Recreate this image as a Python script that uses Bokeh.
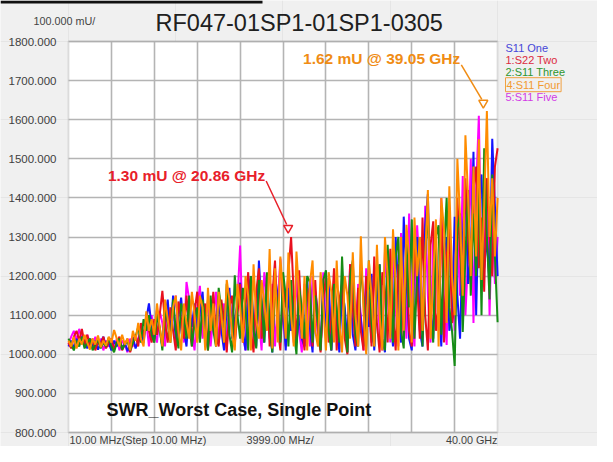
from bokeh.plotting import figure
from bokeh.models import (Range1d, FixedTicker, Grid, Label, PrintfTickFormatter,
                          LinearAxis, BoxAnnotation)
from bokeh.embed import file_html
from bokeh.resources import INLINE

# ---------------- data ----------------
START_GHZ = 0.01          # 10.00 MHz
STEP_GHZ = 0.25           # plotted sweep step
DIV_GHZ = 3.999           # 3999.00 MHz / division
N_POINTS = 161
freq = [START_GHZ + STEP_GHZ * i for i in range(N_POINTS)]

Y_TICKS = [800, 900, 1000, 1100, 1200, 1300, 1400, 1500, 1600, 1700, 1800]
X_DIVS = [START_GHZ + DIV_GHZ * i for i in range(1, 10)]

s11_one = [1020, 1035, 1015, 1040, 1025, 1045, 1030, 1015, 1040, 1020, 1035, 1012, 1030, 1045, 1020, 1030,
           1010, 1035, 1020, 1040, 1015, 1030, 1008, 1025, 1045, 1015, 1035, 1060, 1030, 1090, 1130, 1070,
           1040, 1115, 1060, 1020, 1090, 1140, 1050, 1150, 1030, 1100, 1145, 1060, 1020, 1120, 1070, 1130,
           1040, 1110, 1160, 1050, 1015, 1130, 1080, 1030, 1150, 1060, 1010, 1120, 1170, 1040, 1090, 1130,
           1183, 1060, 1010, 1150, 1200, 1070, 1020, 1240, 1110, 1030, 1180, 1060, 1005, 1200, 1150, 1040,
           1120, 1010, 1170, 1060, 1150, 1030, 1100, 1040, 1020, 1195, 1070, 1005, 1160, 1110, 1020, 1150,
           1060, 1195, 1010, 1140, 1080, 1005, 1170, 1120, 1030, 1190, 1050, 1010, 1150, 1090, 1020, 1180,
           1070, 1206, 1010, 1150, 1230, 1040, 1005, 1260, 1100, 1020, 1300, 1150, 1030, 1352, 1200, 1040,
           1010, 1250, 1300, 1060, 1020, 1330, 1410, 1120, 1040, 1280, 1150, 1020, 1230, 1300, 1060, 1100,
           1352, 1150, 1040, 1300, 1420, 1180, 1250, 1518, 1100, 1400, 1460, 1220, 1300, 1180, 1551, 1380,
           1200]

s22_two = [1030, 1015, 1045, 1060, 1035, 1065, 1025, 1050, 1020, 1040, 1010, 1035, 1025, 1045, 1015, 1030,
           1040, 1012, 1030, 1045, 1010, 1025, 1040, 1005, 1030, 1050, 1020, 1080, 1045, 1100, 1060, 1030,
           1090, 1050, 1100, 1162, 1080, 1030, 1120, 1060, 1010, 1135, 1090, 1040, 1150, 1070, 1020, 1110,
           1160, 1040, 1100, 1130, 1010, 1080, 1160, 1050, 1020, 1140, 1090, 1005, 1120, 1150, 1030, 1100,
           1180, 1030, 1120, 1210, 1060, 1005, 1160, 1220, 1040, 1100, 1190, 1020, 1150, 1240, 1070, 1010,
           1180, 1120, 1210, 1300, 1150, 1030, 1215, 1080, 1010, 1170, 1120, 1020, 1190, 1060, 1005, 1140,
           1200, 1030, 1090, 1220, 1010, 1140, 1180, 1040, 1000, 1230, 1120, 1020, 1170, 1060, 1010, 1200,
           1140, 1020, 1250, 1080, 1005, 1210, 1160, 1030, 1270, 1100, 1010, 1230, 1190, 1040, 1280, 1060,
           1020, 1300, 1180, 1040, 1350, 1100, 1010, 1280, 1340, 1060, 1120, 1380, 1030, 1250, 1320, 1080,
           1120, 1400, 1250, 1150, 1450, 1300, 1180, 1420, 1480, 1220, 1350, 1160, 1450, 1300, 1200, 1480,
           1527]

s11_three = [1040, 1025, 1010, 1035, 1020, 1045, 1015, 1030, 1040, 1010, 1025, 1038, 1015, 1030, 1020, 1042,
             1020, 1005, 1030, 1040, 1012, 1025, 1035, 1010, 1030, 1045, 1070, 1030, 1090, 1060, 1100, 1050,
             1030, 1100, 1070, 1010, 1120, 1080, 1030, 1140, 1060, 1015, 1130, 1100, 1040, 1150, 1020, 1080,
             1120, 1030, 1140, 1090, 1010, 1150, 1060, 1020, 1170, 1110, 1030, 1180, 1050, 1005, 1202, 1100,
             1040, 1170, 1120, 1010, 1200, 1060, 1015, 1190, 1140, 1030, 1210, 1080, 1005, 1180, 1120, 1030,
             1210, 1150, 1020, 1190, 1060, 1000, 1170, 1120, 1040, 1200, 1185, 1030, 1150, 1080, 1010, 1190,
             1215, 1060, 1010, 1180, 1120, 1030, 1250, 1090, 1005, 1200, 1240, 1050, 1020, 1230, 1140, 1010,
             1240, 1080, 1020, 1190, 1230, 1040, 1010, 1280, 1150, 1030, 1250, 1300, 1060, 1015, 1290, 1120,
             1345, 1040, 1200, 1300, 1020, 1250, 1380, 1090, 1030, 1300, 1330, 1050, 1260, 1400, 1120, 1060,
             970, 1320, 1360, 1057, 1250, 1420, 1150, 1360, 1200, 1480, 1100, 1527, 1300, 1140, 1460, 1250,
             1082]

s11_four = [1035, 1020, 1045, 1015, 1040, 1025, 1050, 1030, 1012, 1040, 1025, 1048, 1018, 1035, 1022, 1045,
            1030, 1062, 1040, 1020, 1050, 1025, 1040, 1010, 1060, 1035, 1080, 1040, 1020, 1110, 1060, 1090,
            1050, 1130, 1070, 1020, 1140, 1090, 1030, 1120, 1150, 1060, 1010, 1130, 1080, 1040, 1160, 1100,
            1030, 1150, 1120, 1010, 1170, 1060, 1130, 1020, 1160, 1100, 1030, 1190, 1140, 1050, 1010, 1180,
            1120, 1030, 1200, 1150, 1010, 1230, 1090, 1040, 1190, 1130, 1060, 1269, 1015, 1220, 1030, 1250,
            1150, 1040, 1260, 1100, 1020, 1263, 1150, 1040, 1200, 1010, 1180, 1240, 1060, 1020, 1210, 1130,
            1010, 1210, 1160, 1030, 1240, 1080, 1005, 1200, 1150, 1040, 1261, 1100, 1020, 1302, 1110, 1000,
            1240, 1150, 1020, 1280, 1100, 1010, 1300, 1200, 1040, 1320, 1180, 1010, 1300, 1060, 1331, 1250,
            1030, 1350, 1200, 1300, 1060, 1250, 1420, 1040, 1200, 1345, 1020, 1400, 1320, 1080, 1430, 1200,
            1100, 1500, 1350, 1150, 1560, 1400, 1200, 1480, 1250, 1550, 1190, 1380, 1622, 1300, 1450, 1250,
            1400]

s11_five = [1025, 1045, 1060, 1035, 1065, 1040, 1020, 1050, 1030, 1015, 1045, 1025, 1040, 1010, 1035, 1020,
            1030, 1015, 1040, 1010, 1035, 1025, 1005, 1040, 1020, 1050, 1030, 1070, 1040, 1085, 1020, 1100,
            1060, 1030, 1110, 1080, 1020, 1130, 1050, 1100, 1150, 1040, 1090, 1030, 1185, 1140, 1060, 1010,
            1120, 1175, 1040, 1090, 1140, 1020, 1100, 1160, 1030, 1080, 1130, 1010, 1150, 1060, 1020, 1140,
            1278, 1050, 1010, 1160, 1200, 1030, 1140, 1090, 1010, 1210, 1150, 1040, 1180, 1020, 1130, 1245,
            1100, 1020, 1190, 1140, 1030, 1210, 1060, 1005, 1180, 1120, 1020, 1200, 1150, 1040, 1010, 1210,
            1060, 1160, 1010, 1190, 1120, 1030, 1200, 1080, 1005, 1231, 1150, 1020, 1180, 1100, 1010, 1220,
            1140, 1030, 1200, 1230, 1050, 1010, 1263, 1160, 1030, 1280, 1120, 1020, 1310, 1200, 1040, 1360,
            1100, 1020, 1330, 1200, 1050, 1380, 1150, 1030, 1300, 1245, 1060, 1400, 1120, 1024, 1350, 1200,
            1060, 1300, 1150, 1456, 1100, 1250, 1500, 1080, 1420, 1610, 1200, 1300, 1450, 1099, 1380, 1180,
            1300]

trace_names = ["S11 One", "1:S22 Two", "2:S11 Three", "4:S11 Four", "5:S11 Five"]
trace_values = [s11_one, s22_two, s11_three, s11_four, s11_five]
trace_colors = ["#1414ff", "#e8101e", "#168c16", "#ff8c00", "#ff00ff"]
legend_colors = ["#4646d8", "#dc2a40", "#2e962e", "#f29a30", "#d23ae6"]
draw_order = [4, 0, 1, 2, 3]

marker_freqs = [20.86, 39.05]
marker_vals = [1300, 1620]
marker_texts = ["1.30 mU @ 20.86 GHz", "1.62 mU @ 39.05 GHz"]
marker_colors = ["#e8202a", "#f08c14"]

X_MIN, X_MAX = 0.01, 40.0
Y_MIN, Y_MAX = 800, 1800

# ---------------- layout (canvas pixels) ----------------
W, H = 597, 446
FR_L, FR_R, FR_T, FR_B = 68, 497, 41, 432
GPP = (X_MAX - X_MIN) / (FR_R - FR_L)
UPP = (Y_MAX - Y_MIN) / (FR_B - FR_T)


def dx(px):
    return X_MIN + (px - FR_L) * GPP


def dy(py):
    return Y_MIN + (FR_B - py) * UPP


p = figure(width=W, height=H,
           x_range=Range1d(dx(0), dx(W)), y_range=Range1d(dy(H), dy(0)),
           output_backend="svg", toolbar_location=None,
           x_axis_location=None, y_axis_location=None,
           min_border_left=0, min_border_right=0, min_border_top=0, min_border_bottom=0)
p.border_fill_color = "#f0f0f0"
p.background_fill_color = "#f0f0f0"
p.outline_line_color = None

# plot area
p.add_layout(BoxAnnotation(left=X_MIN, right=X_MAX, bottom=Y_MIN, top=Y_MAX,
                           fill_color="white", fill_alpha=1, line_color=None, level="underlay"))
yg = Grid(dimension=1, ticker=FixedTicker(ticks=Y_TICKS), cross_bounds=(X_MIN, X_MAX),
          grid_line_color="#b4b4b4", grid_line_width=1.6)
xg = Grid(dimension=0, ticker=FixedTicker(ticks=X_DIVS), cross_bounds=(Y_MIN, Y_MAX),
          grid_line_color="#b4b4b4", grid_line_width=1.6)
p.add_layout(yg)
p.add_layout(xg)
p.add_layout(BoxAnnotation(left=X_MIN, right=X_MAX, bottom=Y_MIN, top=Y_MAX,
                           fill_color=None, fill_alpha=0, line_color="#a4a4a4", line_width=2,
                           level="underlay"))

yax = LinearAxis(fixed_location=X_MIN, ticker=FixedTicker(ticks=Y_TICKS),
                 formatter=PrintfTickFormatter(format="%.3f"))
yax.axis_line_color = None
yax.major_tick_line_color = None
yax.minor_tick_line_color = None
yax.major_label_standoff = 6
yax.major_label_text_font = "Liberation Sans"
yax.major_label_text_font_size = "11.5px"
yax.major_label_text_color = "#404040"
p.add_layout(yax, "left")

for i in draw_order:
    p.line(freq, trace_values[i], line_color=trace_colors[i], line_width=2)

# markers with leader lines
LEAD_DX = [-22, -22]
LEAD_DY = [47, 38]
for k in range(2):
    mx = marker_freqs[k] - 4 * GPP
    my = marker_vals[k] + 9 * UPP
    sx = mx + LEAD_DX[k] * GPP
    sy = my + LEAD_DY[k] * UPP
    p.line([sx, mx - 1.5 * GPP], [sy, my + 3.5 * UPP], line_color=marker_colors[k], line_width=1.5)
    p.scatter([mx], [my], marker="inverted_triangle", size=9, fill_color="white",
              line_color=marker_colors[k], line_width=1.5)
    p.add_layout(Label(x=sx - 1 * GPP, y=sy + 6 * UPP, text=marker_texts[k], text_align="right",
                       text_baseline="middle", text_font="Liberation Sans", text_font_style="bold",
                       text_font_size="15.5px", text_color=marker_colors[k]))

# clipped document fragment at the very top
p.add_layout(BoxAnnotation(left=dx(0), right=dx(262), top=dy(0), bottom=dy(3),
                           fill_color="#111111", fill_alpha=1, line_color=None))

# title and scale
p.add_layout(Label(x=dx(155), y=dy(22), text="RF047-01SP1-01SP1-0305", text_align="left",
                   text_baseline="middle", text_font="Liberation Sans", text_font_size="23.5px",
                   text_color="#202020"))
p.add_layout(Label(x=dx(33), y=dy(20), text="100.000 mU/", text_align="left",
                   text_baseline="middle", text_font="Liberation Sans", text_font_size="10.8px",
                   text_color="#444444"))

# legend
for i, name in enumerate(trace_names):
    kw = {}
    if i == 3:
        kw = dict(border_line_color="#f0a040", border_line_width=1, padding=1)
    p.add_layout(Label(x=dx(505), y=dy(47 + 12.4 * i), text=name, text_align="left",
                       text_baseline="middle", text_font="Liberation Sans", text_font_size="11px",
                       text_color=legend_colors[i], **kw))

# inner caption
p.add_layout(Label(x=dx(106), y=dy(FR_B - 23), text="SWR_Worst Case, Single Point", text_align="left",
                   text_baseline="middle", text_font="Liberation Sans", text_font_style="bold",
                   text_font_size="18px", text_color="#111111"))

# x labels
xl = dict(text_baseline="bottom", text_font="Liberation Sans", text_font_size="10.8px",
          text_color="#404040")
p.add_layout(Label(x=dx(69), y=dy(445.5), text="10.00 MHz(Step 10.00 MHz)", text_align="left", **xl))
p.add_layout(Label(x=dx(246), y=dy(445.5), text="3999.00 MHz/", text_align="left", **xl))
p.add_layout(Label(x=dx(497), y=dy(445.5), text="40.00 GHz", text_align="right", **xl))

open("out.html", "w").write(file_html(p, INLINE))
